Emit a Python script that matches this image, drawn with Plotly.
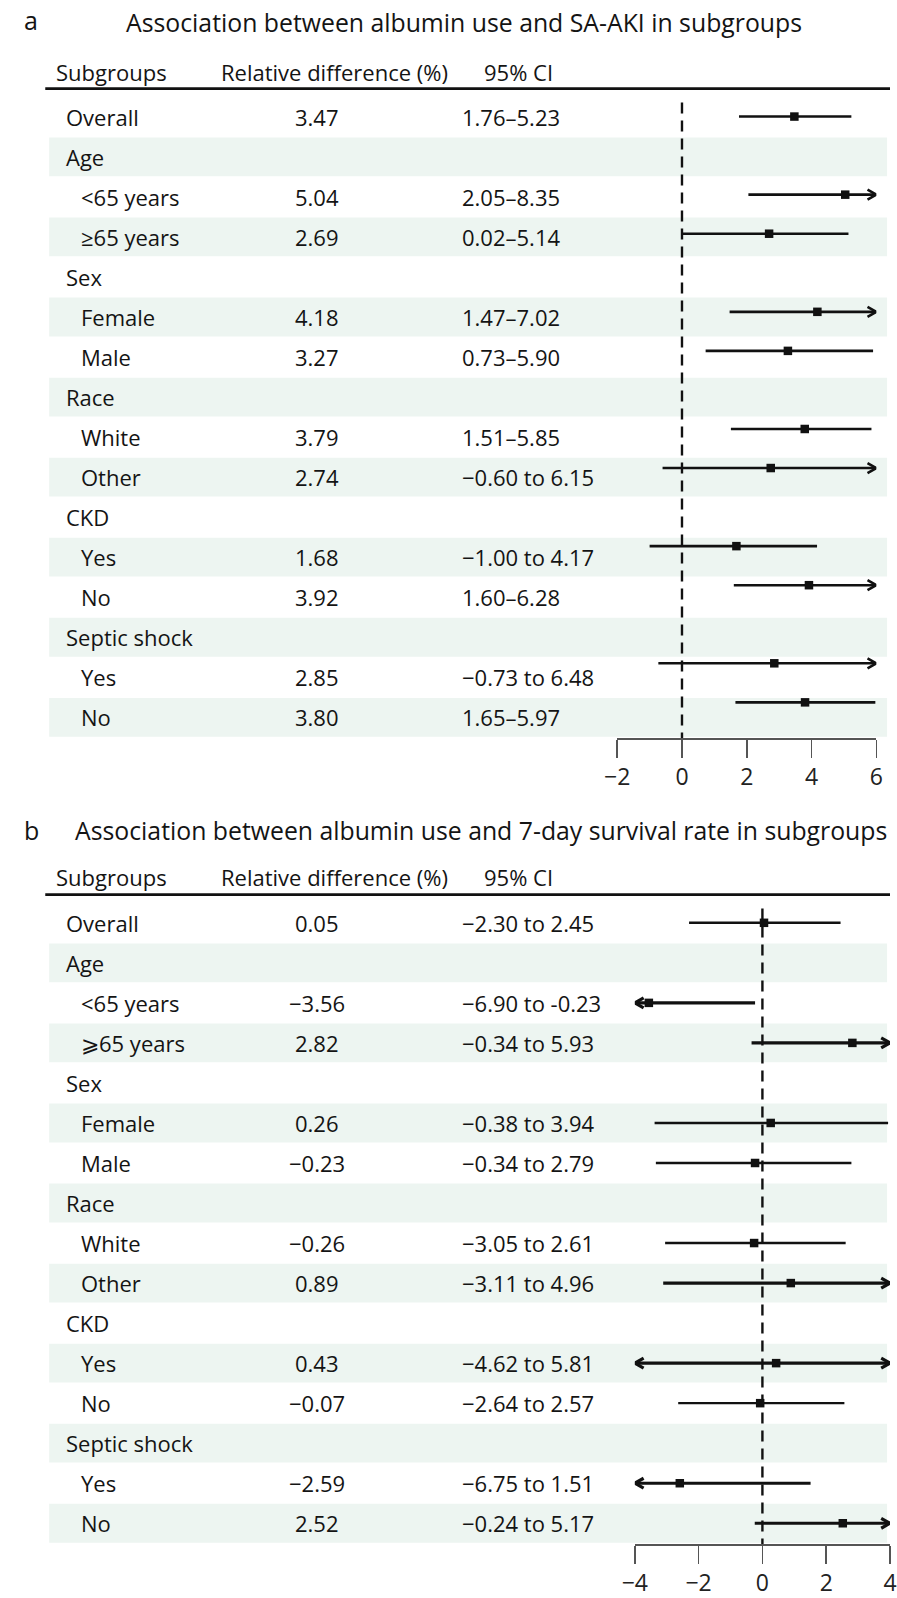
import plotly.graph_objects as go

W, H = 897, 1598

# ---------------- data ----------------
labels_a = ["Overall", "Age", "<65 years", "≥65 years", "Sex", "Female", "Male", "Race",
            "White", "Other", "CKD", "Yes", "No", "Septic shock", "Yes", "No"]
labels_b = ["Overall", "Age", "<65 years", "⩾65 years", "Sex", "Female", "Male", "Race",
            "White", "Other", "CKD", "Yes", "No", "Septic shock", "Yes", "No"]
group_rows = [0, 1, 4, 7, 10, 13]

rd_a = [3.47, None, 5.04, 2.69, None, 4.18, 3.27, None, 3.79, 2.74, None, 1.68, 3.92, None, 2.85, 3.80]
lo_a = [1.76, None, 2.05, 0.02, None, 1.47, 0.73, None, 1.51, -0.60, None, -1.00, 1.60, None, -0.73, 1.65]
hi_a = [5.23, None, 8.35, 5.14, None, 7.02, 5.90, None, 5.85, 6.15, None, 4.17, 6.28, None, 6.48, 5.97]
ci_text_a = ["1.76–5.23", "", "2.05–8.35", "0.02–5.14", "", "1.47–7.02", "0.73–5.90", "",
             "1.51–5.85", "−0.60 to 6.15", "", "−1.00 to 4.17", "1.60–6.28", "",
             "−0.73 to 6.48", "1.65–5.97"]

rd_b = [0.05, None, -3.56, 2.82, None, 0.26, -0.23, None, -0.26, 0.89, None, 0.43, -0.07, None, -2.59, 2.52]
lo_b = [-2.30, None, -6.90, -0.34, None, -3.38, -3.34, None, -3.05, -3.11, None, -4.62, -2.64, None, -6.75, -0.24]
hi_b = [2.45, None, -0.23, 5.93, None, 3.94, 2.79, None, 2.61, 4.96, None, 5.81, 2.57, None, 1.51, 5.17]
ci_text_b = ["−2.30 to 2.45", "", "−6.90 to -0.23", "−0.34 to 5.93", "", "−0.38 to 3.94",
             "−0.34 to 2.79", "", "−3.05 to 2.61", "−3.11 to 4.96", "", "−4.62 to 5.81",
             "−2.64 to 2.57", "", "−6.75 to 1.51", "−0.24 to 5.17"]

ticks_a = [-2, 0, 2, 4, 6]
ticks_b = [-4, -2, 0, 2, 4]
title_a = "Association between albumin use and SA-AKI in subgroups"
title_b = "Association between albumin use and 7-day survival rate in subgroups"
headers = ["Subgroups", "Relative difference (%)", "95% CI"]

# ---------------- layout constants ----------------
FONT = "Open Sans"
TXT = "#141414"
BAND = "#EDF5F1"
ROW_PX = 40.18


def fy(px):
    return 1 - px / H


def fmt(v):
    return ("−" if v < 0 else "") + f"{abs(v):.2f}"


def tick_txt(v):
    return ("−" if v < 0 else "") + str(abs(v))


fig = go.Figure()
fig.add_trace(go.Scatter(x=[], y=[], xaxis="x", yaxis="y", showlegend=False))

shapes = []
annotations = []

panels = [
    dict(labels=labels_a, rd=rd_a, lo=lo_a, hi=hi_a, ci=ci_text_a, ticks=ticks_a,
         tyref="y", fxref="x2", fyref="y3", title=title_a, letter="a",
         title_y=22, letter_y=20, title_x=115, header_y=72, line_y=89,
         xmin=-2, xmax=6, ppx=(883 - 618) / 8, ppy=39.2, lw=2.6, lw_arrow=2.6,
         dash_top=103, dash_bottom=741, dom_top=97.2),
    dict(labels=labels_b, rd=rd_b, lo=lo_b, hi=hi_b, ci=ci_text_b, ticks=ticks_b,
         tyref="y2", fxref="x3", fyref="y2", title=title_b, letter="b",
         title_y=833, letter_y=833, title_x=62, header_y=880, line_y=898,
         xmin=-4, xmax=4, ppx=(897 - 636) / 8, ppy=ROW_PX, lw=2.4, lw_arrow=3.2,
         dash_top=912, dash_bottom=1550, dom_top=906.2),
]

for P in panels:
    n = len(P["labels"])
    # stripes
    for i in range(1, n, 2):
        shapes.append(dict(type="rect", xref="paper", yref=P["tyref"], x0=37 / W, x1=894 / W,
                           y0=i - 0.485, y1=i + 0.485, fillcolor=BAND, line=dict(width=0),
                           layer="below"))
    # header rule
    shapes.append(dict(type="line", xref="paper", yref="paper", x0=33 / W, x1=1,
                       y0=fy(P["line_y"]), y1=fy(P["line_y"]), line=dict(color="#111", width=2.6)))
    # null line
    frac = (P["dash_bottom"] - P["dash_top"]) / (P["dash_bottom"] - P["dom_top"])
    shapes.append(dict(type="line", xref=P["fxref"], yref=P["fyref"] + " domain",
                       x0=0, x1=0, y0=frac, y1=0, layer="below",
                       line=dict(color="#111", width=2.4, dash="11px,7px")))

    # titles
    annotations.append(dict(text=P["letter"], xref="paper", yref="paper", x=9 / W,
                            y=fy(P["letter_y"]), xanchor="left", yanchor="middle",
                            showarrow=False, font=dict(family=FONT, size=25, color=TXT)))
    annotations.append(dict(text=P["title"], xref="paper", yref="paper", x=(P["title_x"] - 1) / W,
                            y=fy(P["title_y"]), xanchor="left", yanchor="middle",
                            showarrow=False, font=dict(family=FONT, size=24.8, color=TXT)))
    for htxt, hx in zip(headers, [42, 211, 480]):
        annotations.append(dict(text=htxt, xref="x", yref="paper", x=hx, y=fy(P["header_y"]),
                                xanchor="left", yanchor="middle", showarrow=False,
                                font=dict(family=FONT, size=22, color=TXT)))

    # table cells
    for i in range(n):
        lx = 52 if i in group_rows else 67
        annotations.append(dict(text=P["labels"][i], xref="x", yref=P["tyref"], x=lx, y=i,
                                xanchor="left", yanchor="middle", showarrow=False,
                                font=dict(family=FONT, size=22, color=TXT)))
        if P["rd"][i] is not None:
            annotations.append(dict(text=fmt(P["rd"][i]), xref="x", yref=P["tyref"], x=311, y=i,
                                    xanchor="center", yanchor="middle", showarrow=False,
                                    font=dict(family=FONT, size=22, color=TXT)))
            annotations.append(dict(text=P["ci"][i], xref="x", yref=P["tyref"], x=457, y=i,
                                    xanchor="left", yanchor="middle", showarrow=False,
                                    font=dict(family=FONT, size=22, color=TXT)))

    # forest marks
    lx_n, ly_n, lx_a, ly_a, ax_, ay_ = [], [], [], [], [], []
    mx, my = [], []
    dx = 9 / P["ppx"]
    dy = 5 / P["ppy"]
    for i in range(n):
        if P["rd"][i] is None:
            continue
        x0 = max(P["lo"][i], P["xmin"])
        x1 = min(P["hi"][i], P["xmax"])
        left = P["lo"][i] < P["xmin"]
        right = P["hi"][i] > P["xmax"]
        if left or right:
            lx_a += [x0, x1, None]
            ly_a += [i, i, None]
        else:
            lx_n += [x0, x1, None]
            ly_n += [i, i, None]
        if right:
            ax_ += [x1 - dx, x1, x1 - dx, None]
            ay_ += [i - dy, i, i + dy, None]
        if left:
            ax_ += [x0 + dx, x0, x0 + dx, None]
            ay_ += [i - dy, i, i + dy, None]
        mx.append(P["rd"][i])
        my.append(i)

    common = dict(xaxis=P["fxref"], yaxis=P["fyref"], showlegend=False, hoverinfo="skip")
    fig.add_trace(go.Scatter(x=lx_n, y=ly_n, mode="lines", line=dict(color="#111", width=P["lw"]), **common))
    fig.add_trace(go.Scatter(x=lx_a, y=ly_a, mode="lines", line=dict(color="#111", width=P["lw_arrow"]), **common))
    fig.add_trace(go.Scatter(x=ax_, y=ay_, mode="lines", cliponaxis=False,
                             line=dict(color="#111", width=P["lw_arrow"]), **common))
    fig.add_trace(go.Scatter(x=mx, y=my, mode="markers", cliponaxis=False,
                             marker=dict(symbol="square", size=8.5, color="#111"), **common))

axis_common = dict(showgrid=False, zeroline=False, showline=True, linecolor="#555", linewidth=1.6,
                   ticks="outside", ticklen=18, tickwidth=1.6, tickcolor="#555",
                   tickfont=dict(family=FONT, size=23, color="#222"), fixedrange=True)

fig.update_layout(
    width=W, height=H, autosize=False,
    margin=dict(l=0, r=0, t=0, b=0, pad=0),
    paper_bgcolor="white", plot_bgcolor="rgba(0,0,0,0)",
    showlegend=False,
    xaxis=dict(domain=[0, 1], range=[0, W], visible=False, anchor="y", fixedrange=True),
    yaxis=dict(domain=[fy(740.1), fy(97.2)], range=[15.5, -0.5], visible=False, anchor="x",
               fixedrange=True),
    yaxis2=dict(domain=[fy(1550), fy(906.2)], range=[(1550 - 926.3) / ROW_PX, -0.5], visible=False,
                anchor="x3", fixedrange=True),
    yaxis3=dict(domain=[fy(741), fy(97.2)], range=[(741 - 117) / 39.2, (97.2 - 117) / 39.2],
                visible=False, anchor="x2", fixedrange=True),
    xaxis2=dict(domain=[618 / W, 883 / W], range=[-2, 6], anchor="y3",
                tickvals=ticks_a, ticktext=[tick_txt(v) for v in ticks_a], **axis_common),
    xaxis3=dict(domain=[636 / W, 1], range=[-4, 4], anchor="y2", ticklabeloverflow="allow",
                tickvals=ticks_b, ticktext=[tick_txt(v) for v in ticks_b], **axis_common),
    shapes=shapes,
    annotations=annotations,
)

fig.write_html(
    "out.html",
    config={"displayModeBar": False, "staticPlot": True},
    post_script="document.body.style.margin='0';document.body.style.padding='0';"
                "document.body.style.overflow='hidden';",
)
